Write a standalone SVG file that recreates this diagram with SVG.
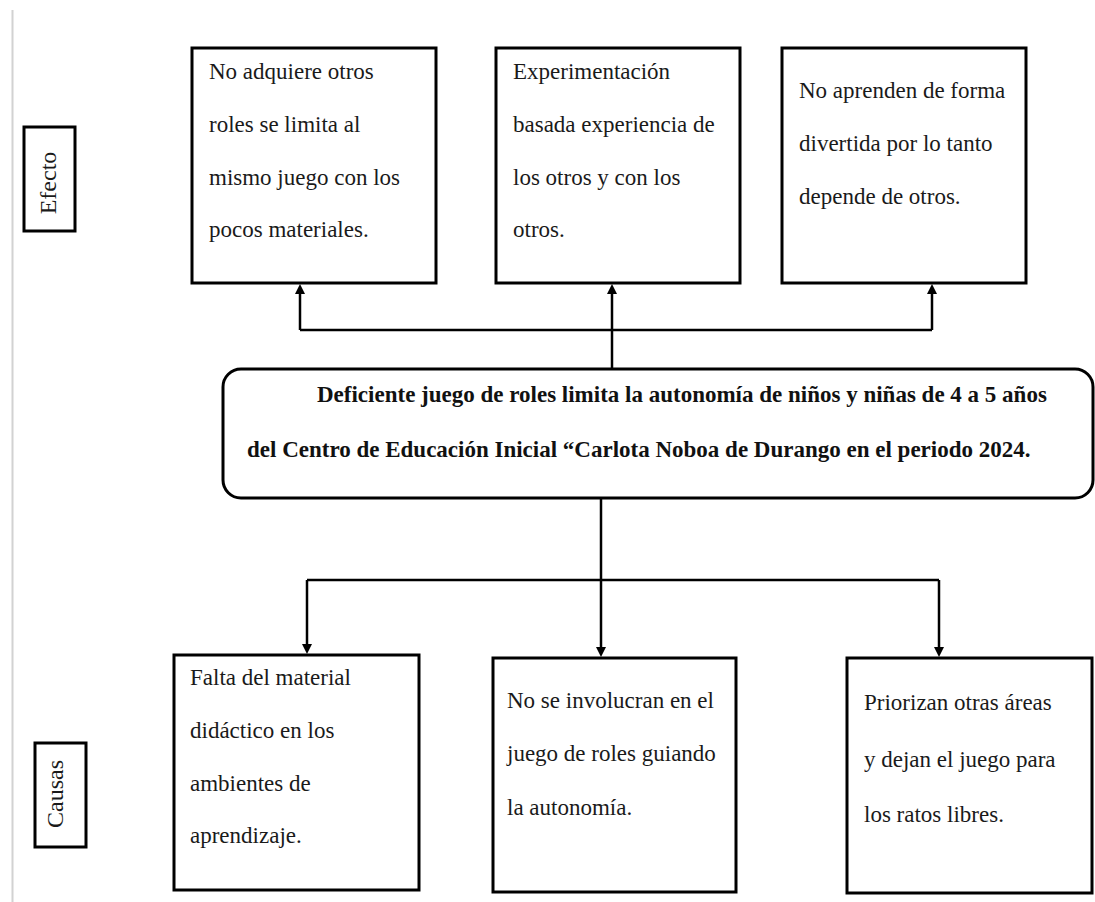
<svg xmlns="http://www.w3.org/2000/svg" width="1095" height="902" viewBox="0 0 1095 902">
<defs>
<style>
.box{fill:#fff;stroke:#000;stroke-width:3}
.t{font-family:"Liberation Serif","Times New Roman",serif;font-size:23px;fill:#1a1a1a}
.b{font-family:"Liberation Serif","Times New Roman",serif;font-size:23px;font-weight:bold;fill:#111}
.lbl{font-family:"Liberation Serif","Times New Roman",serif;font-size:24px;fill:#1a1a1a}
.c{fill:none;stroke:#000;stroke-width:2.5}
</style>
<marker id="ah" markerUnits="userSpaceOnUse" markerWidth="10" markerHeight="10" refX="0" refY="5" orient="auto" viewBox="0 0 10 10">
<path d="M0,0 L10,5 L0,10 z" fill="#000"/>
</marker>
</defs>
<rect width="1095" height="902" fill="#fff"/>
<line x1="12.5" y1="10" x2="12.5" y2="902" stroke="#d2d2d2" stroke-width="2"/>

<g id="label-efecto">
<rect class="box" x="24" y="127" width="51" height="104"/>
<text class="lbl" transform="translate(55.5,183) rotate(-90)" text-anchor="middle">Efecto</text>
</g>
<g id="label-causas">
<rect class="box" x="35" y="743" width="51" height="104"/>
<text class="lbl" transform="translate(63,794) rotate(-90)" text-anchor="middle">Causas</text>
</g>

<g id="connectors">
<path class="c" d="M612,369 L612,294" marker-end="url(#ah)"/>
<path class="c" d="M300,330 L932,330"/>
<path class="c" d="M300,330 L300,294" marker-end="url(#ah)"/>
<path class="c" d="M932,330 L932,294" marker-end="url(#ah)"/>
<path class="c" d="M601,498 L601,647" marker-end="url(#ah)"/>
<path class="c" d="M307,580 L939,580"/>
<path class="c" d="M307,580 L307,644" marker-end="url(#ah)"/>
<path class="c" d="M939,580 L939,647" marker-end="url(#ah)"/>
</g>

<g id="effect-1">
<rect class="box" x="192" y="48" width="244" height="235"/>
<text class="t" x="209" y="79">No adquiere otros</text>
<text class="t" x="209" y="132">roles se limita al</text>
<text class="t" x="209" y="185">mismo juego con los</text>
<text class="t" x="209" y="237">pocos materiales.</text>
</g>
<g id="effect-2">
<rect class="box" x="496" y="48" width="244" height="235"/>
<text class="t" x="513" y="79">Experimentación</text>
<text class="t" x="513" y="132">basada experiencia de</text>
<text class="t" x="513" y="185">los otros y con los</text>
<text class="t" x="513" y="237">otros.</text>
</g>
<g id="effect-3">
<rect class="box" x="782" y="48" width="244" height="235"/>
<text class="t" x="799" y="98">No aprenden de forma</text>
<text class="t" x="799" y="151">divertida por lo tanto</text>
<text class="t" x="799" y="204">depende de otros.</text>
</g>

<g id="problem">
<rect class="box" x="223" y="369" width="870" height="129" rx="18" ry="18"/>
<text class="b" x="317" y="402">Deficiente juego de roles limita la autonomía de niños y niñas de 4 a 5 años</text>
<text class="b" x="247" y="457">del Centro de Educación Inicial “Carlota Noboa de Durango en el periodo 2024.</text>
</g>

<g id="cause-1">
<rect class="box" x="174" y="655" width="245" height="235"/>
<text class="t" x="190" y="685">Falta del material</text>
<text class="t" x="190" y="738">didáctico en los</text>
<text class="t" x="190" y="791">ambientes de</text>
<text class="t" x="190" y="843">aprendizaje.</text>
</g>
<g id="cause-2">
<rect class="box" x="493" y="658" width="243" height="234"/>
<text class="t" x="507" y="708">No se involucran en el</text>
<text class="t" x="507" y="761">juego de roles guiando</text>
<text class="t" x="507" y="815">la autonomía.</text>
</g>
<g id="cause-3">
<rect class="box" x="847" y="658" width="245" height="235"/>
<text class="t" x="864" y="710">Priorizan otras áreas</text>
<text class="t" x="864" y="767">y dejan el juego para</text>
<text class="t" x="864" y="822">los ratos libres.</text>
</g>
</svg>
